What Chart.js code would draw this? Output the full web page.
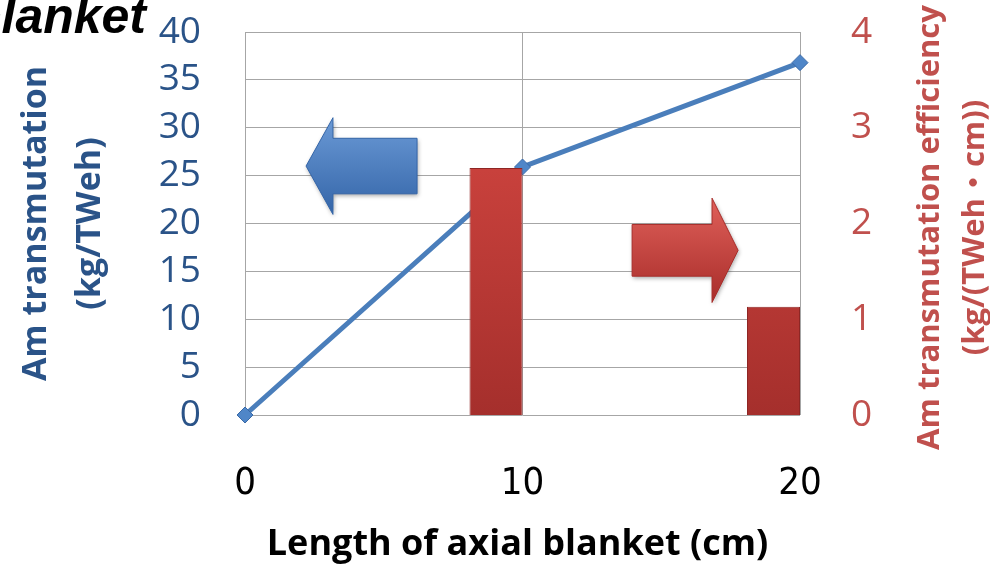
<!DOCTYPE html>
<html>
<head>
<meta charset="utf-8">
<script src="https://cdn.jsdelivr.net/npm/chart.js@4.4.1/dist/chart.umd.min.js"></script>
<style>
  html, body { margin: 0; padding: 0; background: #fff; }
  #wrap { width: 990px; height: 572px; position: relative; }
</style>
</head>
<body>
<div id="wrap"><canvas id="chart" width="990" height="572"></canvas></div>
<script>
// data
const blanketLength = [0, 10, 20];                 // cm
const transmutation = [0, 25.9, 36.8];             // kg/TWeh (left axis)
const efficiencyLength = [10, 20];                 // cm
const efficiency = [2.58, 1.13];                   // kg/(TWeh·cm) (right axis)

const leftTicks = [0, 5, 10, 15, 20, 25, 30, 35, 40];
const rightTicks = [0, 1, 2, 3, 4];
const bottomTicks = [0, 10, 20];

const blue = "#4a7ebb";
const leftColor = "#2a5388";
const rightColor = "#c0504d";
const gridColor = "#a6a6a6";
const titleFont = "'Open Sans', 'Noto Sans CJK JP', sans-serif";

// arrows, in data units of the x / left y scale
const arrows = [
    { tip: 2.2, neck: 3.17, tail: 6.2, mid: 26.0, body: 2.9, head: 5.05, c1: "#6b9ad6", c2: "#3465a8" },
    { tip: 17.77, neck: 16.83, tail: 13.95, mid: 17.2, body: 2.7, head: 5.45, c1: "#e0605a", c2: "#a82d2a" }
];

const decorPlugin = {
    id: "decor",
    beforeDatasetsDraw(chart) {
        const ctx = chart.ctx;
        const x = chart.scales.x, y = chart.scales.y;
        arrows.forEach(a => {
            const tipX = x.getPixelForValue(a.tip);
            const neckX = x.getPixelForValue(a.neck);
            const tailX = x.getPixelForValue(a.tail);
            const midY = y.getPixelForValue(a.mid);
            const bTop = y.getPixelForValue(a.mid + a.body);
            const bBot = y.getPixelForValue(a.mid - a.body);
            const hTop = y.getPixelForValue(a.mid + a.head);
            const hBot = y.getPixelForValue(a.mid - a.head);
            ctx.save();
            ctx.beginPath();
            ctx.moveTo(tipX, midY);
            ctx.lineTo(neckX, hTop);
            ctx.lineTo(neckX, bTop);
            ctx.lineTo(tailX, bTop);
            ctx.lineTo(tailX, bBot);
            ctx.lineTo(neckX, bBot);
            ctx.lineTo(neckX, hBot);
            ctx.closePath();
            const g = ctx.createLinearGradient(0, hTop, 0, hBot);
            g.addColorStop(0, a.c1);
            g.addColorStop(1, a.c2);
            ctx.shadowColor = "rgba(0,0,0,0.35)";
            ctx.shadowBlur = 4;
            ctx.shadowOffsetX = 1;
            ctx.shadowOffsetY = 2;
            ctx.fillStyle = g;
            ctx.fill();
            ctx.shadowColor = "transparent";
            ctx.lineWidth = 1;
            ctx.strokeStyle = a.c2;
            ctx.stroke();
            ctx.restore();
        });
    },
    afterDraw(chart) {
        const ctx = chart.ctx;
        const area = chart.chartArea;
        const midY = (area.top + area.bottom) / 2;
        ctx.save();

        // cut-off heading in the corner
        ctx.fillStyle = "#000";
        ctx.font = "italic bold 50px 'Liberation Sans', Arial, sans-serif";
        ctx.textAlign = "right";
        ctx.textBaseline = "alphabetic";
        ctx.fillText("blanket", 146, 33);

        ctx.textAlign = "center";
        ctx.textBaseline = "middle";
        ctx.font = "bold 34px " + titleFont;

        // left axis title
        ctx.fillStyle = leftColor;
        [["Am transmutation", 36], ["(kg/TWeh)", 90]].forEach(([t, cx]) => {
            ctx.save();
            ctx.translate(cx, midY);
            ctx.rotate(-Math.PI / 2);
            ctx.fillText(t, 0, 0);
            ctx.restore();
        });

        // right axis title
        ctx.fillStyle = rightColor;
        ctx.font = "bold 31px " + titleFont;
        [["Am transmutation efficiency", 930], ["(kg/(TWeh・cm))", 975]].forEach(([t, cx]) => {
            ctx.save();
            ctx.translate(cx, midY + 4);
            ctx.rotate(-Math.PI / 2);
            ctx.fillText(t, 0, 0);
            ctx.restore();
        });

        // bottom axis title
        ctx.fillStyle = "#000";
        ctx.font = "bold 36px " + titleFont;
        ctx.fillText("Length of axial blanket (cm)", (area.left + area.right) / 2 - 5, 545);
        ctx.restore();
    }
};

function barFill(context) {
    const area = context.chart.chartArea;
    if (!area) return "#c0504d";
    const g = context.chart.ctx.createLinearGradient(0, area.top, 0, area.bottom);
    g.addColorStop(0, "#dc4b45");
    g.addColorStop(1, "#a52f2c");
    return g;
}

new Chart(document.getElementById("chart"), {
    type: "bar",
    data: {
        datasets: [
            {
                type: "line",
                data: blanketLength.map((v, i) => ({ x: v, y: transmutation[i] })),
                xAxisID: "x",
                yAxisID: "y",
                borderColor: blue,
                borderWidth: 5,
                pointStyle: "rectRot",
                pointRadius: 8,
                pointBackgroundColor: "#4f86c8",
                pointBorderColor: "#3a6aa8",
                pointBorderWidth: 1,
                tension: 0,
                clip: false,
                order: 2
            },
            {
                type: "bar",
                data: efficiencyLength.map((v, i) => ({ x: v, y: efficiency[i] })),
                xAxisID: "x",
                yAxisID: "y1",
                backgroundColor: barFill,
                borderColor: "#8e2624",
                borderWidth: 1,
                barPercentage: 1,
                categoryPercentage: 0.382,
                order: 1
            },
            {
                // empty second series of the cluster (keeps bars left of the tick)
                type: "bar",
                data: efficiencyLength.map(v => ({ x: v, y: null })),
                xAxisID: "x",
                yAxisID: "y1",
                barPercentage: 1,
                categoryPercentage: 0.382,
                order: 1
            }
        ]
    },
    options: {
        responsive: false,
        animation: false,
        layout: { padding: { top: 32, left: 0, right: 0, bottom: 0 } },
        plugins: {
            legend: { display: false },
            tooltip: { enabled: false }
        },
        scales: {
            x: {
                type: "linear",
                min: 0,
                max: 20,
                offset: false,
                afterBuildTicks: s => { s.ticks = bottomTicks.map(v => ({ value: v })); },
                afterFit: s => { s.height = 157; s.paddingLeft = 0; s.paddingRight = 0; },
                grid: { color: gridColor, drawTicks: false, offset: false },
                border: { display: false },
                ticks: {
                    color: "#000",
                    padding: 46,
                    maxRotation: 0,
                    font: { size: 38, family: "'Liberation Sans Narrow', 'DejaVu Sans Condensed', sans-serif" }
                }
            },
            y: {
                position: "left",
                min: 0,
                max: 40,
                afterBuildTicks: s => { s.ticks = leftTicks.map(v => ({ value: v })); },
                afterFit: s => { s.width = 245; s.paddingTop = 0; s.paddingBottom = 0; },
                grid: { color: gridColor, drawTicks: false },
                border: { display: false },
                ticks: {
                    color: leftColor,
                    padding: 44,
                    font: { size: 37, family: "'Open Sans', sans-serif" }
                }
            },
            y1: {
                position: "right",
                min: 0,
                max: 4,
                afterBuildTicks: s => { s.ticks = rightTicks.map(v => ({ value: v })); },
                afterFit: s => { s.width = 190; s.paddingTop = 0; s.paddingBottom = 0; },
                grid: { display: false },
                border: { display: false },
                ticks: {
                    color: rightColor,
                    padding: 43,
                    font: { size: 37, family: "'Open Sans', sans-serif" }
                }
            }
        }
    },
    plugins: [decorPlugin]
});
</script>
</body>
</html>
